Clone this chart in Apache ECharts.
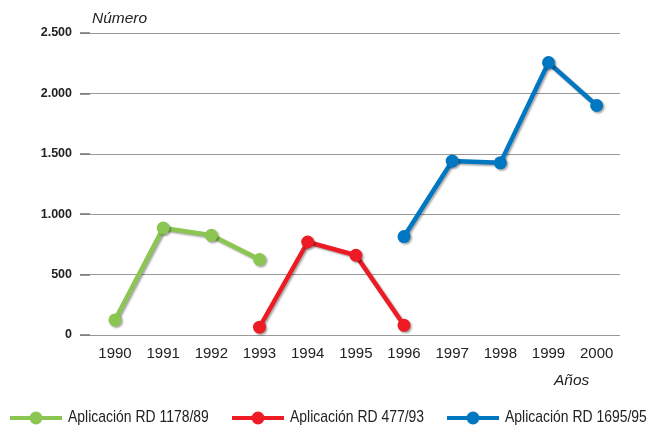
<!DOCTYPE html>
<html>
<head>
<meta charset="utf-8">
<script src="https://cdn.jsdelivr.net/npm/echarts@6/dist/echarts.min.js"></script>
<style>html,body{margin:0;padding:0;background:#fff;}#c{width:649px;height:425px;}</style>
</head>
<body>
<div id="c"></div>
<script>
const years = [1990,1991,1992,1993,1994,1995,1996,1997,1998,1999,2000];
const seriesNames = ['Aplicación RD 1178/89','Aplicación RD 477/93','Aplicación RD 1695/95'];
const greenYears = [1990,1991,1992,1993];
const greenValues = [125,885,825,625];
const redYears = [1993,1994,1995,1996];
const redValues = [65,770,660,80];
const blueYears = [1996,1997,1998,1999,2000];
const blueValues = [815,1440,1425,2255,1900];
const yTicks = [0,500,1000,1500,2000,2500];
const yAxisTitle = 'Número';
const xAxisTitle = 'Años';
const colors = ['#8bc653','#ed1c24','#0077c0'];

function pairs(xs, ys){ return xs.map((x,i)=>[x, ys[i]]); }
function fmtThousands(v){ return String(v).replace(/\B(?=(\d{3})+(?!\d))/g,'.'); }

const chart = echarts.init(document.getElementById('c'), null, {renderer:'canvas'});
const shadow = {shadowColor:'rgba(0,0,0,0.35)', shadowBlur:2, shadowOffsetX:1.5, shadowOffsetY:1.5};
function mkSeries(i, xs, ys){
  return {
    name: seriesNames[i], type:'line', data: pairs(xs, ys),
    symbol:'circle', symbolSize:13, showSymbol:true,
    lineStyle:Object.assign({color:colors[i], width:4.5}, shadow),
    itemStyle:Object.assign({color:colors[i]}, shadow),
    emphasis:{disabled:true}, animation:false, z:2+i
  };
}

// custom condensed legend (layout positions only; names/colors from arrays)
const legendX = [10, 232, 447];
const legendY = 418;
const legendGraphics = [];
seriesNames.forEach((name, i) => {
  const x0 = legendX[i];
  legendGraphics.push({type:'line', shape:{x1:x0, y1:legendY, x2:x0+52, y2:legendY}, style:{stroke:colors[i], lineWidth:4}});
  legendGraphics.push({type:'circle', shape:{cx:x0+26, cy:legendY, r:6.5}, style:{fill:colors[i]}});
  legendGraphics.push({type:'text', x:x0+58, y:legendY-1, scaleX:0.82,
    style:{text:name, fontSize:17, fill:'#222', fontFamily:'Liberation Sans, Arial, sans-serif', verticalAlign:'middle', align:'left'}});
});

chart.setOption({
  animation:false,
  grid:{left:80, right:29, top:33, bottom:90, containLabel:false},
  xAxis:{
    type:'value', min:1989.273, max:2000.484,
    axisLine:{show:false}, axisTick:{show:false}, splitLine:{show:false},
    axisLabel:{customValues: years, formatter: v=>String(Math.round(v)), color:'#222', fontSize:15, fontFamily:'Liberation Sans, Arial, sans-serif', margin:11}
  },
  yAxis:{
    type:'value', min:0, max:2500, interval:500,
    axisLine:{show:false},
    axisTick:{show:true, inside:true, length:10, lineStyle:{color:'#777', width:1.5}},
    splitLine:{show:true, lineStyle:{color:'#999', width:1}},
    axisLabel:{formatter: v=>fmtThousands(v), color:'#222', fontSize:12.5, fontWeight:'bold', fontFamily:'Liberation Sans, Arial, sans-serif', margin:8, customValues: yTicks}
  },
  legend:{show:false},
  graphic:[
    {type:'text', left:92, top:11, style:{text:yAxisTitle, fontSize:15.5, fontStyle:'italic', fill:'#222', fontFamily:'Liberation Sans, Arial, sans-serif'}},
    {type:'text', left:554, top:373, style:{text:xAxisTitle, fontSize:15.5, fontStyle:'italic', fill:'#222', fontFamily:'Liberation Sans, Arial, sans-serif'}}
  ].concat(legendGraphics),
  series:[
    mkSeries(0, greenYears, greenValues),
    mkSeries(1, redYears, redValues),
    mkSeries(2, blueYears, blueValues)
  ]
});
</script>
</body>
</html>
